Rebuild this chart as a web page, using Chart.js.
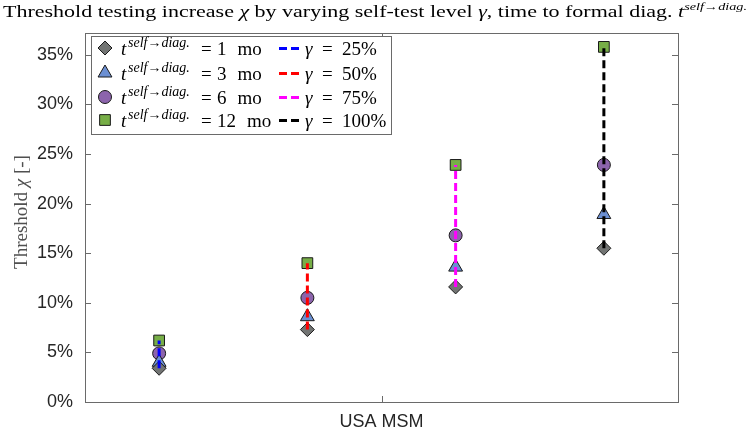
<!DOCTYPE html>
<html>
<head>
<meta charset="utf-8">
<script src="https://cdn.jsdelivr.net/npm/chart.js@4/dist/chart.umd.min.js"></script>
<style>
  html, body { margin: 0; padding: 0; background: #ffffff; }
  #wrap { width: 750px; height: 433px; position: relative; }
</style>
</head>
<body>
<div id="wrap"><canvas id="c" width="750" height="433"></canvas></div>
<script>
// Category and group layout
const categoryLabels = ['USA MSM'];
const categoryPos = [2];
const groupPos = [0.5, 1.5, 2.5, 3.5];          // one group per self-test level
const gammaLabels = ['25%', '50%', '75%', '100%'];
const gammaColors = ['#0000ff', '#ff0000', '#ff00ff', '#000000'];
const delayLabels = ['1', '3', '6', '12'];       // months to formal diagnosis

// Threshold chi (%) per delay, one value per self-test level
const chi1mo  = [3.4, 7.3, 11.6, 15.5];
const chi3mo  = [4.0, 8.6, 13.6, 18.9];
const chi6mo  = [4.9, 10.5, 16.8, 23.9];
const chi12mo = [6.2, 14.0, 23.9, 35.8];

// Y axis ticks (%)
const yTicks = [0, 5, 10, 15, 20, 25, 30, 35];
const yMin = 0, yMax = 37.2;

const markerStyles = [
  { style: 'rectRot',  radius: 7,   fill: '#727473' },
  { style: 'triangle', radius: 8,   fill: '#6b8fd2' },
  { style: 'circle',   radius: 6.5, fill: '#8c64ac' },
  { style: 'rect',     radius: 7.6, fill: '#77ae47' }
];
const delaySeries = [chi1mo, chi3mo, chi6mo, chi12mo];

const datasets = [];
// dashed spans (lowest order value, so they are painted last, above the markers)
groupPos.forEach((x, g) => {
  datasets.push({
    type: 'scatter',
    label: 'gamma ' + gammaLabels[g],
    data: [{ x: x, y: chi1mo[g] }, { x: x, y: chi12mo[g] }],
    showLine: true,
    borderColor: gammaColors[g],
    borderWidth: 3,
    borderDash: [8, 4],
    pointRadius: 0,
    order: 0
  });
});
// markers
delaySeries.forEach((vals, k) => {
  const m = markerStyles[k];
  datasets.push({
    type: 'scatter',
    label: 't ' + delayLabels[k] + ' mo',
    data: vals.map((v, g) => ({ x: groupPos[g], y: v })),
    pointStyle: m.style,
    pointRadius: m.radius,
    pointBackgroundColor: m.fill,
    pointBorderColor: '#1a1a1a',
    pointBorderWidth: 1,
    showLine: false,
    order: 1
  });
});

const SERIF = '"Liberation Serif", "DejaVu Serif", serif';
const SANS = '"Liberation Sans", Arial, sans-serif';

function drawParts(ctx, parts, x, baseline) {
  let cx = x;
  parts.forEach(p => {
    ctx.font = p.font;
    ctx.fillText(p.text, cx, baseline + (p.dy || 0));
    cx += ctx.measureText(p.text).width;
  });
  return cx;
}
function measureParts(ctx, parts) {
  let w = 0;
  parts.forEach(p => { ctx.font = p.font; w += ctx.measureText(p.text).width; });
  return w;
}

function drawMarker(ctx, style, x, y, r, fill) {
  ctx.save();
  ctx.beginPath();
  if (style === 'circle') {
    ctx.arc(x, y, r, 0, Math.PI * 2);
  } else if (style === 'rect') {
    const s = r * Math.SQRT1_2;
    ctx.rect(x - s, y - s, 2 * s, 2 * s);
  } else if (style === 'rectRot') {
    ctx.moveTo(x, y - r); ctx.lineTo(x + r, y); ctx.lineTo(x, y + r); ctx.lineTo(x - r, y);
    ctx.closePath();
  } else if (style === 'triangle') {
    for (let i = 0; i < 3; i++) {
      const a = i * 2 * Math.PI / 3;
      const px = x + Math.sin(a) * r, py = y - Math.cos(a) * r;
      if (i === 0) ctx.moveTo(px, py); else ctx.lineTo(px, py);
    }
    ctx.closePath();
  }
  ctx.fillStyle = fill;
  ctx.fill();
  ctx.lineWidth = 1;
  ctx.strokeStyle = '#1a1a1a';
  ctx.stroke();
  ctx.restore();
}

const framePlugin = {
  id: 'frame',
  beforeDatasetsDraw(chart) {
    const { ctx, chartArea: a, scales } = chart;
    ctx.save();
    ctx.strokeStyle = '#6a6a6a';
    ctx.lineWidth = 1;
    ctx.strokeRect(a.left + 0.5, a.top + 0.5, a.right - a.left, a.bottom - a.top);
    ctx.beginPath();
    yTicks.forEach(v => {
      const py = Math.round(scales.y.getPixelForValue(v)) + 0.5;
      ctx.moveTo(a.left, py); ctx.lineTo(a.left + 6, py);
      ctx.moveTo(a.right, py); ctx.lineTo(a.right - 6, py);
    });
    categoryPos.forEach(v => {
      const px = Math.round(scales.x.getPixelForValue(v)) + 0.5;
      ctx.moveTo(px, a.bottom); ctx.lineTo(px, a.bottom - 6);
      ctx.moveTo(px, a.top); ctx.lineTo(px, a.top + 6);
    });
    ctx.stroke();
    ctx.restore();
  },
  afterDraw(chart) {
    const { ctx } = chart;
    ctx.save();
    ctx.fillStyle = '#000';
    ctx.textBaseline = 'alphabetic';
    ctx.textAlign = 'left';

    // title
    const tf = '17px ' + SERIF, ti = 'italic 17px ' + SERIF, ts = 'italic 11px ' + SERIF;
    const titleParts = [
      { text: 'Threshold testing increase ', font: tf },
      { text: 'χ', font: ti },
      { text: ' by varying self-test level ', font: tf },
      { text: 'γ', font: ti },
      { text: ', time to formal diag. ', font: tf },
      { text: 't', font: ti },
      { text: 'self→diag.', font: ts, dy: -7 }
    ];
    const tw = measureParts(ctx, titleParts);
    ctx.save();
    ctx.translate(3, 17);
    ctx.scale(744 / tw, 1);
    drawParts(ctx, titleParts, 0, 0);
    ctx.restore();

    // y axis title
    ctx.save();
    ctx.fillStyle = '#505050';
    const yf = '19px ' + SERIF, yi = 'italic 19px ' + SERIF;
    const yParts = [
      { text: 'Threshold ', font: yf },
      { text: 'χ', font: yi },
      { text: ' [-]', font: yf }
    ];
    const yw = measureParts(ctx, yParts);
    ctx.translate(27, 212);
    ctx.rotate(-Math.PI / 2);
    drawParts(ctx, yParts, -yw / 2, 0);
    ctx.restore();

    // legend
    const bx = 91, by = 36, bw = 300, bh = 98;
    ctx.fillStyle = '#ffffff';
    ctx.fillRect(bx, by, bw, bh);
    ctx.strokeStyle = '#6a6a6a';
    ctx.lineWidth = 1;
    ctx.strokeRect(bx + 0.5, by + 0.5, bw, bh);
    const rows = [48, 73, 97, 120];
    const lf = '19px ' + SERIF, li = 'italic 19px ' + SERIF, ls = 'italic 14px ' + SERIF;
    rows.forEach((ry, k) => {
      const m = markerStyles[k];
      drawMarker(ctx, m.style, 105, ry, m.radius, m.fill);
      ctx.fillStyle = '#000';
      const base = ry + 7;
      ctx.font = li; ctx.fillText('t', 121, base);
      ctx.font = ls; ctx.fillText('self→diag.', 128, base - 8);
      ctx.font = lf;
      ctx.fillText('=', 201, base);
      ctx.fillText(delayLabels[k], 217, base);
      const nw = ctx.measureText(delayLabels[k]).width;
      ctx.fillText('mo', 217 + nw + 11, base);

      // gamma entry
      ctx.save();
      ctx.strokeStyle = gammaColors[k];
      ctx.lineWidth = 3;
      ctx.setLineDash([8, 4]);
      ctx.beginPath();
      ctx.moveTo(279, ry + 0.5); ctx.lineTo(300, ry + 0.5);
      ctx.stroke();
      ctx.restore();
      ctx.fillStyle = '#000';
      ctx.font = li; ctx.fillText('γ', 305, base);
      ctx.font = lf; ctx.fillText('=', 322, base);
      ctx.fillText(gammaLabels[k], 342, base);
    });
    ctx.restore();
  }
};

new Chart(document.getElementById('c'), {
  type: 'scatter',
  data: { datasets: datasets },
  options: {
    responsive: false,
    devicePixelRatio: 1,
    animation: false,
    events: [],
    layout: { padding: { top: 33, right: 72, left: 0, bottom: 0 } },
    plugins: { legend: { display: false }, tooltip: { enabled: false }, title: { display: false } },
    scales: {
      x: {
        type: 'linear',
        min: 0, max: 4,
        grid: { display: false, drawTicks: false },
        border: { display: false },
        afterBuildTicks(scale) { scale.ticks = categoryPos.map(v => ({ value: v })); },
        afterFit(scale) { scale.height = 31; },
        ticks: {
          autoSkip: false, maxRotation: 0, padding: 9,
          color: '#262626',
          font: { family: SANS, size: 18 },
          callback(v) { const i = categoryPos.indexOf(v); return i >= 0 ? categoryLabels[i] : ''; }
        }
      },
      y: {
        type: 'linear',
        min: yMin, max: yMax,
        grid: { display: false, drawTicks: false },
        border: { display: false },
        afterBuildTicks(scale) { scale.ticks = yTicks.map(v => ({ value: v })); },
        afterFit(scale) { scale.width = 85; },
        ticks: {
          padding: 12,
          color: '#262626',
          font: { family: SANS, size: 18 },
          callback(v) { return v + '%'; }
        }
      }
    }
  },
  plugins: [framePlugin]
});
</script>
</body>
</html>
